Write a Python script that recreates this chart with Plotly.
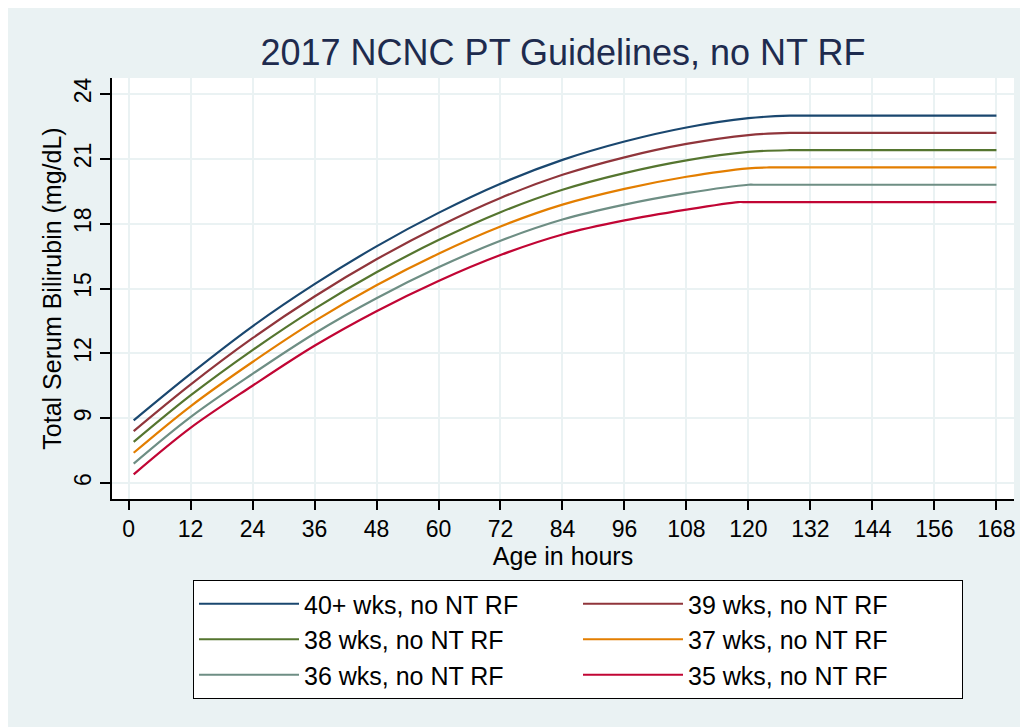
import plotly.graph_objects as go

# ---- data ----
series_names = ["40+ wks, no NT RF", "39 wks, no NT RF", "38 wks, no NT RF",
                "37 wks, no NT RF", "36 wks, no NT RF", "35 wks, no NT RF"]

hours_40 = [1, 12, 24, 36, 48, 60, 72, 84, 96, 108, 120, 128, 129, 168]
tsb_40 = [8.9, 11.05, 13.25, 15.2, 16.95, 18.5, 19.85, 20.95, 21.8, 22.45, 22.88, 23.0, 23.0, 23.0]

hours_39 = [1, 12, 24, 36, 48, 60, 72, 84, 96, 108, 120, 128, 129, 168]
tsb_39 = [8.4, 10.55, 12.7, 14.63, 16.35, 17.87, 19.19, 20.26, 21.07, 21.69, 22.1, 22.2, 22.2, 22.2]

hours_38 = [1, 12, 24, 36, 48, 60, 72, 84, 96, 108, 120, 128, 129, 168]
tsb_38 = [7.9, 10.05, 12.15, 14.06, 15.75, 17.24, 18.53, 19.57, 20.34, 20.93, 21.32, 21.4, 21.4, 21.4]

hours_37 = [1, 12, 24, 36, 48, 60, 72, 84, 96, 108, 120, 124, 125, 168]
tsb_37 = [7.4, 9.55, 11.6, 13.49, 15.15, 16.61, 17.87, 18.88, 19.61, 20.17, 20.56, 20.6, 20.6, 20.6]

hours_36 = [1, 12, 24, 36, 48, 60, 72, 84, 96, 108, 120, 121, 168]
tsb_36 = [6.9, 9.05, 11.05, 12.92, 14.55, 15.98, 17.21, 18.19, 18.88, 19.41, 19.8, 19.8, 19.8]

hours_35 = [1, 12, 24, 36, 48, 60, 72, 84, 96, 108, 118, 119, 168]
tsb_35 = [6.4, 8.55, 10.5, 12.35, 13.95, 15.35, 16.55, 17.5, 18.15, 18.65, 19.0, 19.0, 19.0]

x_ticks = [0, 12, 24, 36, 48, 60, 72, 84, 96, 108, 120, 132, 144, 156, 168]
y_ticks = [6, 9, 12, 15, 18, 21, 24]

colors = ["#1A476F", "#90353B", "#55752F", "#E37E00", "#6E8E84", "#C10534"]

all_x = [hours_40, hours_39, hours_38, hours_37, hours_36, hours_35]
all_y = [tsb_40, tsb_39, tsb_38, tsb_37, tsb_36, tsb_35]

BG = "#EAF2F3"
FONT = "Liberation Sans, Arial, Helvetica, sans-serif"

fig = go.Figure()
for name, xs, ys, c in zip(series_names, all_x, all_y, colors):
    fig.add_trace(go.Scatter(x=xs, y=ys, mode="lines", name=name,
                             line=dict(color=c, width=2.2, shape="spline", smoothing=1.0)))

fig.update_layout(
    width=1028, height=727,
    margin=dict(l=104, r=22, t=70, b=236),
    paper_bgcolor=BG,
    plot_bgcolor="white",
    font=dict(family=FONT, color="black"),
    title=dict(text="2017 NCNC PT Guidelines, no NT RF", x=0.5, xref="paper",
               xanchor="center", y=1 - 44 / 727, yref="container", yanchor="middle",
               font=dict(size=36, color="#1E2B4E", family=FONT)),
    showlegend=True,
    legend=dict(orientation="h", x=(185 - 104) / 902, xanchor="left", y=-81 / 421, yanchor="top",
                bgcolor="white", bordercolor="black", borderwidth=1,
                font=dict(size=25, family=FONT), itemwidth=100, entrywidth=269,
                traceorder="normal"),
)

fig.update_xaxes(range=[-3.2, 171.4], tickvals=x_ticks, ticktext=[str(v) for v in x_ticks],
                 showgrid=True, gridcolor=BG, gridwidth=2, zeroline=False,
                 showline=True, linecolor="black", linewidth=1.5,
                 ticks="outside", ticklen=9, tickwidth=1.5, tickcolor="black",
                 tickfont=dict(size=23, family=FONT),
                 title=dict(text="Age in hours", font=dict(size=25, family=FONT), standoff=0))
fig.update_yaxes(range=[5.26, 24.74], tickvals=y_ticks, ticktext=[str(v) for v in y_ticks],
                 showgrid=True, gridcolor=BG, gridwidth=2, zeroline=False,
                 showline=True, linecolor="black", linewidth=1.5,
                 ticks="outside", ticklen=10, tickwidth=1.5, tickcolor="black",
                 tickangle=-90, tickfont=dict(size=23, family=FONT),
                 title=dict(text="Total Serum Bilirubin (mg/dL)", font=dict(size=25, family=FONT),
                            standoff=1))

fig.write_html("out.html")
